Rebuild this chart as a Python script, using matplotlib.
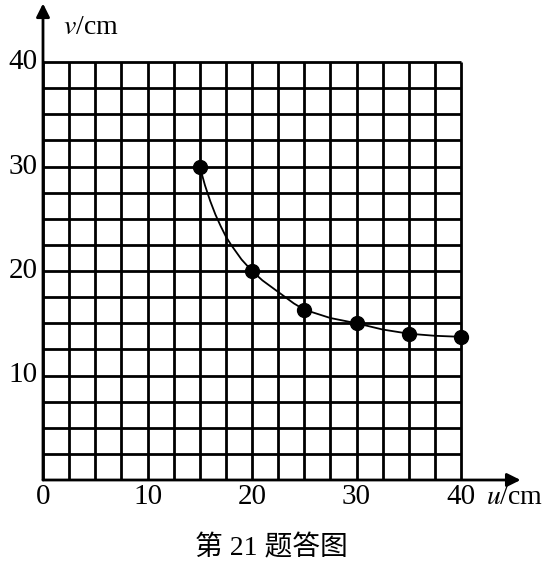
import numpy as np
import matplotlib.pyplot as plt

# measured points (u, v)
u_pts = [15, 20, 25, 30, 35, 40]
v_pts = [30, 20, 16.3, 15, 14, 13.7]

# smooth curve
u_curve = [15, 15.5, 16, 16.5, 17, 17.5, 18, 19, 20, 21, 22.5, 24, 25, 27.5, 30, 32.5, 35, 37.5, 40]
v_curve = [30, 28.2, 26.7, 25.4, 24.3, 23.3, 22.5, 21.1, 20, 19.1, 18.0, 16.9, 16.3, 15.5, 15, 14.4, 14, 13.8, 13.7]

x_ticks = [0, 10, 20, 30, 40]
y_ticks = [10, 20, 30, 40]
title = '第 21 题答图'

plt.rcParams['font.family'] = ['Liberation Serif', 'Noto Sans CJK SC']
plt.rcParams['mathtext.fontset'] = 'stix'

fig = plt.figure(figsize=(5.5, 5.69), dpi=100)
W, H = 550, 569
x0, x1 = 43, 461   # pixel of u=0 and u=40
y0, y1 = 480, 62   # pixel of v=0 and v=40
scale = (x1 - x0) / 40
xmax = (530 - x0) / scale
ymax = (y0 - 3) / scale
ax = fig.add_axes([x0 / W, 1 - y0 / H, (530 - x0) / W, (y0 - 3) / H])
ax.set_xlim(0, xmax)
ax.set_ylim(0, ymax)
ax.axis('off')

# grid
grid = np.arange(0, 40.01, 2.5)
ax.vlines(grid, 0, 40, color='black', lw=2.0, zorder=1)
ax.hlines(grid, 0, 40, color='black', lw=2.0, zorder=1)

# axes with arrows
ax.annotate('', xy=(45.7, 0), xytext=(0, 0),
            arrowprops=dict(arrowstyle='-|>', color='black', lw=2.0,
                            mutation_scale=20, shrinkA=0, shrinkB=0))
ax.annotate('', xy=(0, 45.6), xytext=(0, 0),
            arrowprops=dict(arrowstyle='-|>', color='black', lw=2.0,
                            mutation_scale=20, shrinkA=0, shrinkB=0))

ax.plot(u_curve, v_curve, color='black', lw=1.3, zorder=2)
ax.plot(u_pts, v_pts, 'o', color='black', ms=10, zorder=3)

for t in x_ticks:
    ax.text(t, -1.6, str(t), ha='center', va='center', fontsize=21)
for t in y_ticks:
    ax.text(-0.55, t, str(t), ha='right', va='center', fontsize=21)

ax.text(42.4, -1.7, '$\\mathit{u}$/cm', ha='left', va='center', fontsize=20)
ax.text(1.9, 43.3, '$\\mathit{v}$/cm', ha='left', va='center', fontsize=20)

fig.text(271 / W, 1 - 548 / H, title, ha='center', va='center', fontsize=20)

fig.savefig('out.png', dpi=100)
